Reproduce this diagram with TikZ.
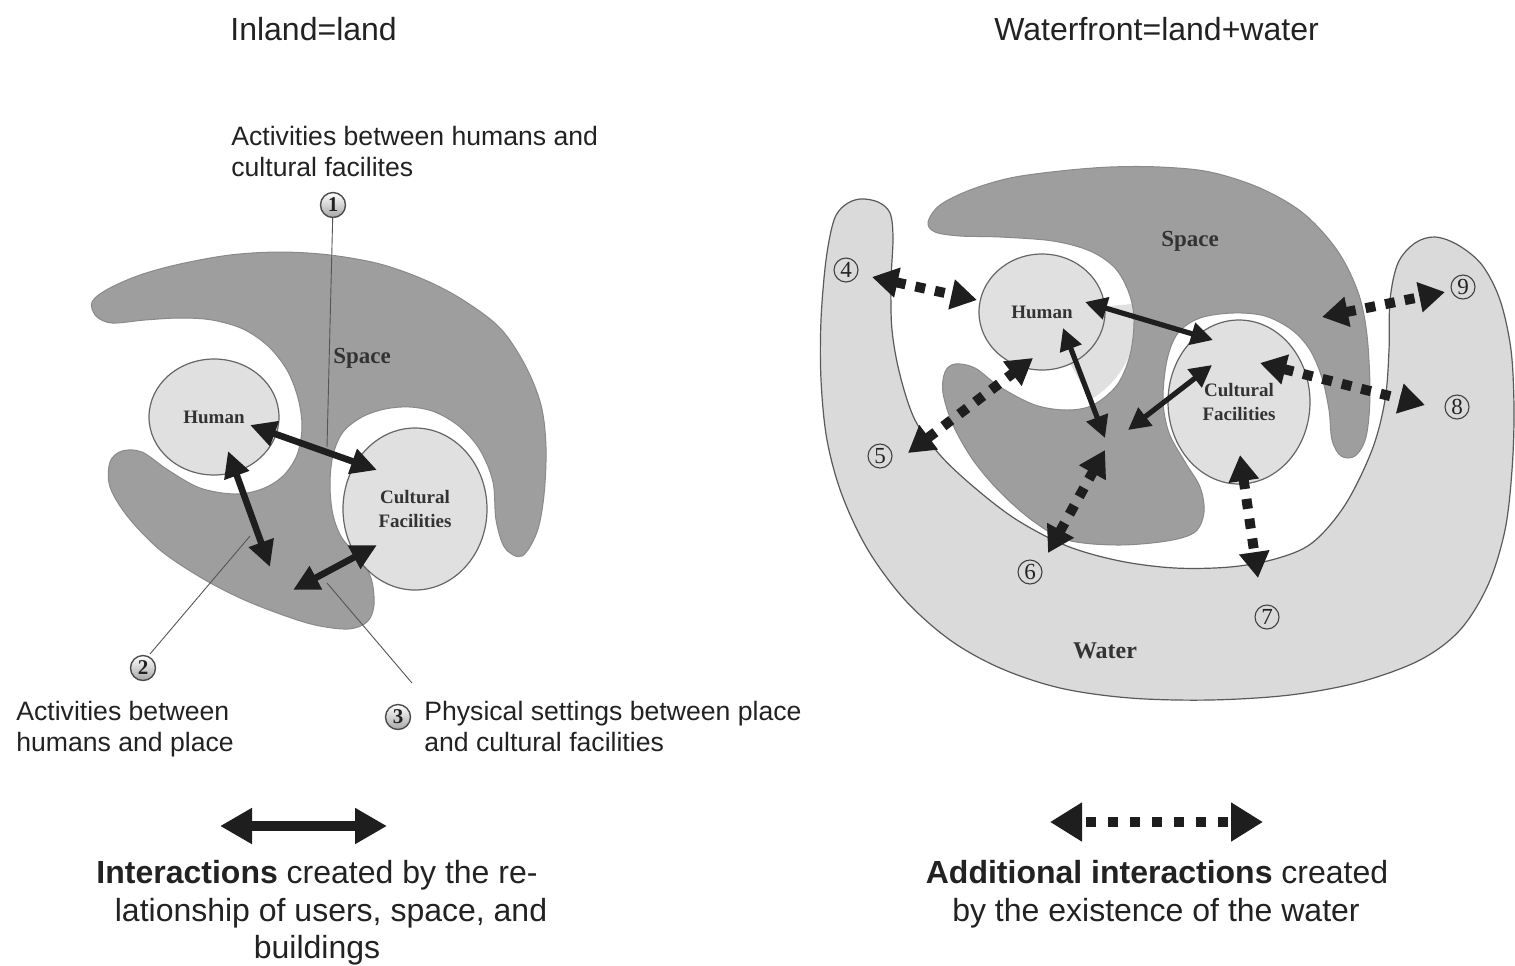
\documentclass[tikz,border=0pt]{standalone}
\usepackage{fontspec}
\setmainfont{Liberation Serif}
\setsansfont{Liberation Sans}
\usetikzlibrary{arrows.meta,shapes.geometric}
\definecolor{spacec}{HTML}{9E9E9E}
\definecolor{spaceedge}{HTML}{8A8A8A}
\definecolor{facc}{HTML}{E0E0E0}
\definecolor{outc}{HTML}{666666}
\definecolor{waterc}{HTML}{DADADA}
\definecolor{wateredge}{HTML}{5A5A5A}
\definecolor{arrc}{HTML}{1E1E1E}
\definecolor{textc}{HTML}{222222}
\definecolor{lblc}{HTML}{333333}
\definecolor{leadc}{HTML}{555555}
\begin{document}
\begin{tikzpicture}[x=0.5pt,y=-0.5pt,
  titletext/.style={font=\sffamily\fontsize{16}{19}\selectfont, text=textc, inner sep=0pt, anchor=base west},
  annottext/.style={font=\sffamily\fontsize{13.3}{16}\selectfont, text=textc, inner sep=0pt, anchor=base west},
  captext/.style={font=\sffamily\fontsize{16}{19}\selectfont, text=textc, inner sep=0pt, anchor=base},
  facility/.style={ellipse, draw=outc, fill=facc, line width=0.6pt, inner sep=0pt, align=center,
    font=\bfseries\fontsize{9.5}{12}\selectfont, text=lblc},
  spacetext/.style={font=\bfseries\fontsize{11.5}{13}\selectfont, text=lblc, inner sep=0pt},
  spaceshape/.style={fill=spacec, draw=spaceedge, line width=0.5pt},
  watershape/.style={fill=waterc, draw=wateredge, line width=0.6pt},
  numleft/.style={circle, draw=black!70, line width=0.7pt, top color=white, bottom color=black!35,
    minimum size=12.5pt, inner sep=0pt, font=\bfseries\fontsize{10.5}{10.5}\selectfont, text=textc},
  numright/.style={circle, draw=black!75, line width=0.55pt, minimum size=12pt, inner sep=0pt,
    font=\fontsize{11.5}{11.5}\selectfont, text=textc},
  leader/.style={draw=leadc, line width=0.45pt},
  sarrowL/.style={draw=arrc, line width=3.3pt, {Triangle[length=13pt,width=12.5pt]}-{Triangle[length=13pt,width=12.5pt]}},
  sarrowR/.style={draw=arrc, line width=2.6pt, {Triangle[length=11pt,width=11pt]}-{Triangle[length=11pt,width=11pt]}},
  darrow/.style={draw=arrc, line width=5pt, dash pattern=on 5pt off 5pt, {Triangle[length=13pt,width=14.5pt]}-{Triangle[length=13pt,width=14.5pt]}},
  legsolid/.style={draw=arrc, line width=5pt, {Triangle[length=16pt,width=17pt]}-{Triangle[length=16pt,width=17pt]}},
  legdot/.style={draw=arrc, line width=5pt, dash pattern=on 5pt off 6pt, dash phase=-3pt, {Triangle[length=16pt,width=18.5pt]}-{Triangle[length=16pt,width=18.5pt]}}
]
\useasboundingbox (0,0) rectangle (1515,965);

% ---------------- titles ----------------
\node[titletext] (t1) at (230,40) {Inland=land};
\node[titletext] (t2) at (994,40) {Waterfront=land+water};

% ---------------- LEFT DIAGRAM ----------------
\path[spaceshape] plot[smooth cycle, tension=0.55] coordinates {
 (92,302) (108,289) (140,275) (180,264) (230,255) (280,252) (330,255) (380,264) (425,280) (463,300)
 (500,328) (525,365) (541,405) (546,447) (544,495) (537,532) (522,556) (505,548) (496,520) (493,482)
 (480,450) (460,427) (435,412) (410,407) (385,409) (362,417) (343,432) (333,455) (330,485) (333,515)
 (342,538) (358,556) (371,578) (374,605) (367,622) (348,629) (315,625) (280,614) (240,598) (200,577)
 (160,550) (128,517) (110,487) (110,462) (122,451) (142,452) (168,470) (200,488) (235,494) (262,489)
 (283,476) (297,455) (302,427) (298,398) (287,370) (268,346) (243,329) (212,320) (180,318) (145,320)
 (112,323) (96,316)};

\node[facility, minimum width=65pt, minimum height=58pt] (hum1) at (214,417) {Human};
\node[facility, minimum width=72pt, minimum height=81pt] (cul1) at (415,509) {Cultural\\Facilities};
\node[spacetext] (sp1) at (362,358) {Space};

% leader lines and numbers
\node[numleft] (n1) at (333,205) {1};
\node[numleft] (n2) at (143,668) {2};
\node[numleft] (n3) at (398,717) {3};
\coordinate (l1) at (327,447);
\coordinate (l2a) at (150,654);
\coordinate (l2) at (250,536);
\coordinate (l3a) at (412,683);
\coordinate (l3) at (327,583);
\draw[leader] (n1) -- (l1);
\draw[leader] (l2a) -- (l2);
\draw[leader] (l3a) -- (l3);

% interaction arrows (left)
\coordinate (a1s) at (250,425); \coordinate (a1e) at (377,470);
\coordinate (a2s) at (228,451); \coordinate (a2e) at (270,567);
\coordinate (a3s) at (377,545); \coordinate (a3e) at (293,590);
\draw[sarrowL] (a1s) -- (a1e);
\draw[sarrowL] (a2s) -- (a2e);
\draw[sarrowL] (a3s) -- (a3e);

% annotations
\node[annottext] (an1a) at (231,145) {Activities between humans and};
\node[annottext] (an1b) at (231,176) {cultural facilites};
\node[annottext] (an2a) at (16,720) {Activities between};
\node[annottext] (an2b) at (16,751) {humans and place};
\node[annottext] (an3a) at (424,720) {Physical settings between place};
\node[annottext] (an3b) at (424,751) {and cultural facilities};

% ---------------- RIGHT DIAGRAM ----------------
\path[watershape] plot[smooth cycle, tension=0.55] coordinates {
 (845,205) (860,199) (878,202) (890,213) (893,238) (891,282) (892,330) (900,375) (915,420) (940,455)
 (975,488) (1017,520) (1067,546) (1120,561) (1175,568) (1230,567) (1275,559) (1312,543) (1345,505)
 (1372,450) (1385,400) (1389,350) (1390,300) (1398,263) (1415,243) (1435,237) (1458,245) (1482,265)
 (1500,300) (1511,350) (1514,410) (1512,470) (1505,530) (1488,585) (1460,630) (1420,660) (1360,682)
 (1290,695) (1210,700) (1130,698) (1060,688) (1000,668) (950,640) (905,600) (868,550) (842,495)
 (827,440) (821,380) (821,320) (826,260) (834,220)};

% light halo on the lower right of Human
\begin{scope}
\clip (1042,312) -- (1200,298) -- (1200,500) -- (1138,488) -- cycle;
\fill[facc] (1042,318) ellipse [x radius=95, y radius=95];
\end{scope}

\path[spaceshape] plot[smooth cycle, tension=0.55] coordinates {
 (928,222) (940,205) (970,190) (1010,178) (1060,171) (1110,167) (1160,167) (1210,172) (1260,188)
 (1303,213) (1337,250) (1358,292) (1367,335) (1370,395) (1366,437) (1355,456) (1341,456) (1332,440)
 (1329,410) (1322,378) (1310,350) (1292,330) (1265,316) (1233,313) (1200,318) (1178,333) (1167,360)
 (1163,400) (1169,433) (1185,462) (1200,487) (1204,512) (1195,532) (1167,541) (1117,545) (1067,540)
 (1033,521) (1000,492) (973,460) (953,425) (943,393) (945,372) (955,364) (975,368) (1000,387)
 (1035,405) (1067,410) (1093,405) (1117,385) (1130,355) (1134,320) (1129,293) (1115,268) (1090,251)
 (1053,241) (1000,237) (960,236) (935,232)};

\node[facility, minimum width=63pt, minimum height=58pt] (hum2) at (1042,312) {Human};
\node[facility, minimum width=71pt, minimum height=82pt] (cul2) at (1239,402) {Cultural\\Facilities};
\node[spacetext] (sp2) at (1190,241) {Space};
\node[spacetext, font=\bfseries\fontsize{12}{14}\selectfont] (wa2) at (1105,651) {Water};

% solid arrows (right)
\coordinate (b1s) at (1085,302); \coordinate (b1e) at (1213,340);
\coordinate (b2s) at (1063,328); \coordinate (b2e) at (1105,438);
\coordinate (b3s) at (1212,365); \coordinate (b3e) at (1128,430);
\draw[sarrowR] (b1s) -- (b1e);
\draw[sarrowR] (b2s) -- (b2e);
\draw[sarrowR] (b3s) -- (b3e);

% dotted arrows (right)
\coordinate (d4s) at (872,277);  \coordinate (d4e) at (977,300);
\coordinate (d5s) at (908,453);  \coordinate (d5e) at (1033,358);
\coordinate (d6s) at (1048,553); \coordinate (d6e) at (1105,450);
\coordinate (d7s) at (1240,455); \coordinate (d7e) at (1258,578);
\coordinate (d8s) at (1260,363); \coordinate (d8e) at (1425,405);
\coordinate (d9s) at (1322,317); \coordinate (d9e) at (1445,292);
\draw[darrow] (d4s) -- (d4e);
\draw[darrow] (d5s) -- (d5e);
\draw[darrow] (d6s) -- (d6e);
\draw[darrow] (d7s) -- (d7e);
\draw[darrow] (d8s) -- (d8e);
\draw[darrow] (d9s) -- (d9e);

\node[numright] (n4) at (846,270) {4};
\node[numright] (n5) at (880,456) {5};
\node[numright] (n6) at (1030,572) {6};
\node[numright] (n7) at (1267,617) {7};
\node[numright] (n8) at (1457,407) {8};
\node[numright] (n9) at (1463,287) {9};

% ---------------- LEGEND ----------------
\coordinate (g1s) at (220,826); \coordinate (g1e) at (387,826);
\draw[legsolid] (g1s) -- (g1e);
\coordinate (g2s) at (1050,822); \coordinate (g2e) at (1263,822);
\draw[legdot] (g2s) -- (g2e);

\node[captext] (c1a) at (317,883) {\textbf{Interactions} created by the re-};
\node[captext] (c1b) at (331,921) {lationship of users, space, and};
\node[captext] (c1c) at (317,958) {buildings};
\node[captext] (c2a) at (1157,883) {\textbf{Additional interactions} created};
\node[captext] (c2b) at (1156,921) {by the existence of the water};
\end{tikzpicture}
\end{document}
